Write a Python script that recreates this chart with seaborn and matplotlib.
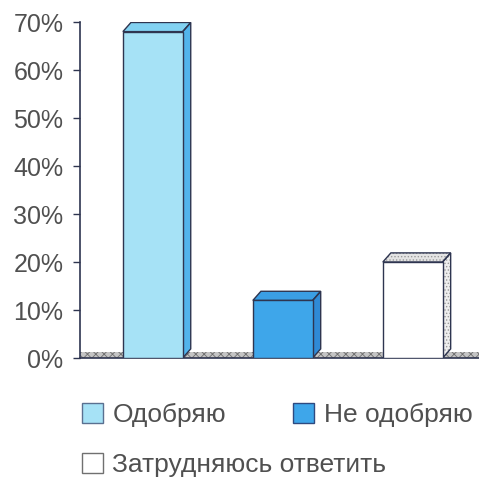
import matplotlib
matplotlib.use('Agg')
import matplotlib.pyplot as plt
from matplotlib.patches import Polygon, Rectangle, Patch
import seaborn as sns
import pandas as pd

# данные опроса
categories = ['Одобряю', 'Не одобряю', 'Затрудняюсь ответить']
values = [68, 12, 20]
yticks = [0, 10, 20, 30, 40, 50, 60, 70]

front_colors = ['#a6e2f6', '#3ea6ea', '#ffffff']
top_colors = ['#82d2f2', '#3a9ee4', '#e4e4e4']
side_colors = ['#52b4ec', '#2f8ad6', '#eeeeee']
edge = '#2e3550'

sns.set_style('white')
plt.rcParams['font.family'] = ['Liberation Sans', 'DejaVu Sans']
plt.rcParams['hatch.linewidth'] = 0.6

df = pd.DataFrame({'cat': categories, 'val': values})

fig = plt.figure(figsize=(4.79, 4.8), dpi=100)
ax = fig.add_axes([80 / 479, 122 / 480, 399 / 479, 336 / 480])

sns.barplot(data=df, x='cat', y='val', hue='cat', palette=front_colors,
            saturation=1, width=0.46, edgecolor=edge, linewidth=1,
            legend=False, ax=ax, zorder=3)

# глубина 3D-эффекта (в единицах данных)
dx, dy = 0.062, 1.9
bars = list(ax.patches)
for i, p in enumerate(bars):
    x0, w, h = p.get_x(), p.get_width(), p.get_height()
    top = [(x0, h), (x0 + w, h), (x0 + w + dx, h + dy), (x0 + dx, h + dy)]
    side = [(x0 + w, 0), (x0 + w + dx, dy), (x0 + w + dx, h + dy), (x0 + w, h)]
    hatch = '.....' if i == 2 else None
    for pts, fc in [(top, top_colors[i]), (side, side_colors[i])]:
        ax.add_patch(Polygon(pts, closed=True, facecolor=fc,
                             edgecolor='#9a9a9a' if hatch else fc,
                             hatch=hatch, linewidth=0, zorder=2.5))
        ax.add_patch(Polygon(pts, closed=True, facecolor='none',
                             edgecolor=edge, linewidth=1, zorder=2.6))

# «пол» диаграммы
ax.add_patch(Rectangle((-0.6, 0), 3.2, dy * 0.7, facecolor='#c4c4c4',
                       edgecolor='#6e6e6e', hatch='xxxx', linewidth=0,
                       zorder=1))

ax.set_xlim(-0.56, 2.51)
ax.set_ylim(0, 70)
ax.set_yticks(yticks)
ax.set_yticklabels([f'{t}%' for t in yticks])
ax.set_xticks([])
ax.set_xlabel('')
ax.set_ylabel('')
ax.tick_params(axis='y', direction='out', length=5, width=1, pad=7,
               labelsize=18, labelcolor='#505050', color=edge, left=True)
for s in ['top', 'right']:
    ax.spines[s].set_visible(False)
ax.spines['left'].set_color(edge)
ax.spines['bottom'].set_color(edge)
ax.spines['left'].set_linewidth(1.2)
ax.spines['bottom'].set_linewidth(1.2)

handles = [Patch(facecolor=front_colors[0], edgecolor='#5a7090', linewidth=1),
           Patch(facecolor=front_colors[1], edgecolor='#2e4a80', linewidth=1),
           Patch(facecolor=front_colors[2], edgecolor='#707070', linewidth=1)]

fig.legend(handles[:2], categories[:2], ncol=2, loc='upper left',
           bbox_to_anchor=(82 / 479, 0.161), frameon=False,
           fontsize=19, handlelength=0.8, handleheight=0.8,
           handletextpad=0.35, columnspacing=2.55, borderpad=0,
           borderaxespad=0, labelcolor='#505050')
fig.legend(handles[2:], categories[2:], loc='upper left',
           bbox_to_anchor=(82 / 479, 0.057), frameon=False,
           fontsize=19, handlelength=0.8, handleheight=0.8,
           handletextpad=0.35, borderpad=0, borderaxespad=0,
           labelcolor='#505050')

fig.savefig('out.png', dpi=100)
